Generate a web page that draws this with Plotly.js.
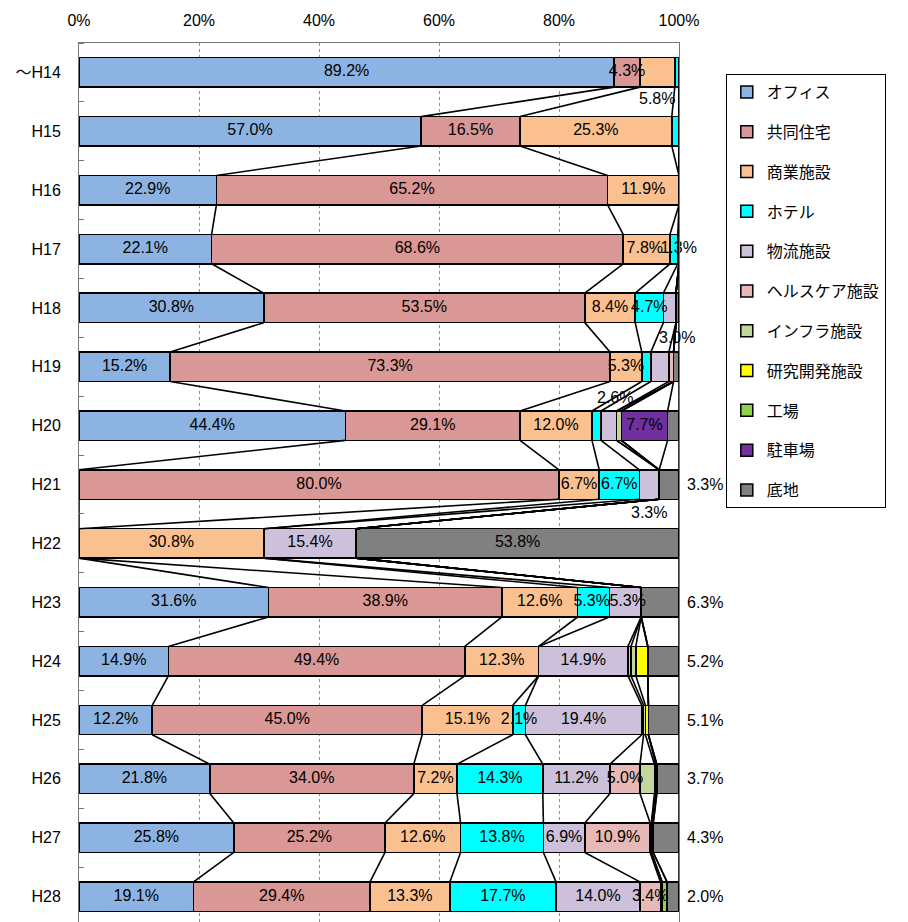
<!DOCTYPE html>
<html>
<head>
<meta charset="utf-8">
<script src="https://cdn.plot.ly/plotly-3.0.1.min.js"></script>
<style>html,body{margin:0;padding:0;background:#fff;}#chart{width:908px;height:922px;}</style>
</head>
<body>
<div id="chart"></div>
<script>
// ---- data ----
const categories = ['～H14','H15','H16','H17','H18','H19','H20','H21','H22','H23','H24','H25','H26','H27','H28'];
const seriesNames = ['オフィス','共同住宅','商業施設','ホテル','物流施設','ヘルスケア施設','インフラ施設','研究開発施設','工場','駐車場','底地'];
const office     = [89.2,57.0,22.9,22.1,30.8,15.2,44.4,0,0,31.6,14.9,12.2,21.8,25.8,19.1];
const apartment  = [4.3,16.5,65.2,68.6,53.5,73.3,29.1,80.0,0,38.9,49.4,45.0,34.0,25.2,29.4];
const retail     = [5.8,25.3,11.9,7.8,8.4,5.3,12.0,6.7,30.8,12.6,12.3,15.1,7.2,12.6,13.3];
const hotel      = [0.7,1.2,0,1.3,4.7,1.5,1.5,6.7,0,5.3,0,2.1,14.3,13.8,17.7];
const logistics  = [0,0,0,0.2,2.1,3.0,2.6,3.3,15.4,5.3,14.9,19.4,11.2,6.9,14.0];
const healthcare = [0,0,0,0,0,0.8,0,0,0,0,0.5,0.3,5.0,10.9,3.4];
const infra      = [0,0,0,0,0,0,0.8,0,0,0,0.8,0.3,2.4,0.2,0.3];
const research   = [0,0,0,0,0,0,0,0,0,0,2.0,0.5,0.2,0,0];
const factory    = [0,0,0,0,0,0,0,0,0,0,0,0,0.2,0.3,0.8];
const parking    = [0,0,0,0,0,0,7.7,0,0,0,0,0,0,0,0];
const land       = [0,0,0,0,0.5,0.9,1.9,3.3,53.8,6.3,5.2,5.1,3.7,4.3,2.0];

// ---- styles ----
const colors = ['#8DB3E2','#D99795','#FAC090','#00FFFF','#CCC0DA','#E6B9B8','#C4D79B','#FFFF00','#92D050','#7030A0','#808080'];
const allValues = [office,apartment,retail,hotel,logistics,healthcare,infra,research,factory,parking,land];
const NUM = '"Liberation Sans","Noto Sans CJK JP",sans-serif';
const JP = '"Noto Sans CJK JP","Noto Sans",sans-serif';

const rows = categories.map((c,i)=>i);
const cum = [];
allValues.forEach((vals,k)=>{
  cum.push(vals.map((v,i)=>(k>0?cum[k-1][i]:0)+v));
});

const traces = [];
allValues.forEach((vals,k)=>{
  traces.push({
    type:'bar', orientation:'h', name:seriesNames[k], x:vals, y:rows,
    marker:{color:colors[k], line:{color:'#000', width:1.5}},
    legendgroup:'g'+k, hoverinfo:'skip', width:0.5
  });
});

// series lines (Excel style)
const lx=[], ly=[];
allValues.forEach((vals,k)=>{
  for(let i=0;i<rows.length-1;i++){
    lx.push(cum[k][i], cum[k][i+1], null);
    ly.push(i+0.25, i+0.75, null);
  }
});
traces.push({type:'scatter', mode:'lines', x:lx, y:ly, line:{color:'#000', width:1.6},
  showlegend:false, hoverinfo:'skip', cliponaxis:false});

// inside labels
const hiddenInside = {'4-4':1,'2-0':1,'4-5':1,'4-6':1,'4-7':1,'7-10':1,'6-12':1};
const forcedInside = {'3-3':1};
const nudge = {'3-3':0.8, '2-3':-0.3, '3-9':-0.3, '4-9':0.4};
const tx=[], ty=[], tt=[];
allValues.forEach((vals,k)=>{
  vals.forEach((v,i)=>{
    const key=k+'-'+i;
    if(v<=0) return;
    if(k===10 && i!==8) return;
    if(hiddenInside[key]) return;
    if(v>=2.0 || forcedInside[key]){
      tx.push(cum[k][i]-v/2+(nudge[key]||0)); ty.push(i); tt.push(v.toFixed(1)+'%');
    }
  });
});
traces.push({type:'scatter', mode:'text', x:tx, y:ty, text:tt, textposition:'middle center',
  textfont:{family:NUM, size:16, color:'#000'}, showlegend:false, hoverinfo:'skip', cliponaxis:false});

// outside labels
const annotations = [];
const outside = [ {k:2,i:0,dx:0,dy:0.45}, {k:4,i:5,dx:2.8,dy:-0.49}, {k:4,i:6,dx:1.1,dy:-0.47}, {k:4,i:7,dx:0,dy:0.48} ];
outside.forEach(o=>{
  const v = allValues[o.k][o.i];
  annotations.push({xref:'x', yref:'y', x:cum[o.k][o.i]-v/2+o.dx, y:o.i+o.dy, text:v.toFixed(1)+'%',
    showarrow:false, font:{family:NUM, size:16, color:'#000'}, xanchor:'center', yanchor:'middle'});
});
land.forEach((v,i)=>{
  if(v>=2.0 && i!==8 && i>=7){
    annotations.push({xref:'paper', yref:'y', x:1.044, y:i, text:v.toFixed(1)+'%', showarrow:false,
      font:{family:NUM, size:16, color:'#000'}, xanchor:'center', yanchor:'middle'});
  }
});

const layout = {
  width:908, height:922,
  margin:{l:79, r:229, t:43, b:0},
  paper_bgcolor:'#fff', plot_bgcolor:'#fff',
  barmode:'stack',
  font:{family:NUM, size:16, color:'#000'},
  xaxis:{side:'top', range:[0,100], tickvals:[0,20,40,60,80,100], ticktext:['0%','20%','40%','60%','80%','100%'],
    showgrid:true, gridcolor:'#8c8c8c', griddash:'dot', gridwidth:1, zeroline:false,
    showline:true, mirror:true, linecolor:'#777', linewidth:1, ticks:'', fixedrange:true,
    ticklabelstandoff:10, tickfont:{family:NUM, size:16}},
  yaxis:{range:[14.431,-0.5], tickvals:rows, ticktext:categories, showgrid:false, zeroline:false,
    showline:true, mirror:true, linecolor:'#777', linewidth:1, ticks:'',
    ticklabelstandoff:14, tickfont:{family:NUM, size:16},
    minor:{tick0:0.5, dtick:1, ticks:'inside', ticklen:5, tickcolor:'#777', showgrid:false}},
  showlegend:true,
  legend:{x:1.078, xanchor:'left', y:0.9647, yanchor:'top', traceorder:'grouped', tracegroupgap:16,
    bordercolor:'#000', borderwidth:1, bgcolor:'#fff', font:{family:JP, size:16, color:'#000'}},
  annotations:annotations
};

Plotly.newPlot('chart', traces, layout, {staticPlot:true, displayModeBar:false});
</script>
</body>
</html>
